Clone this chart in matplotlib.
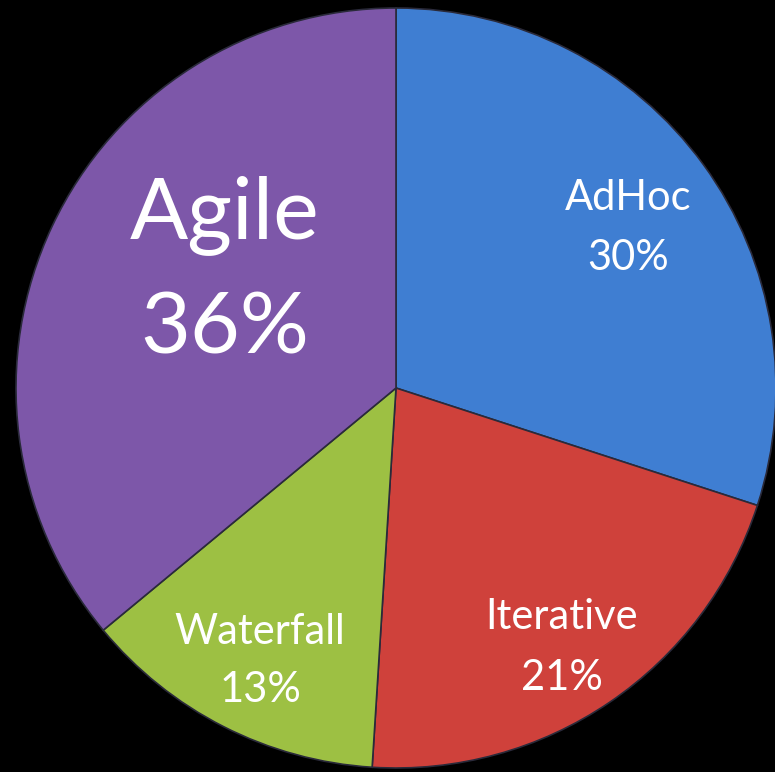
import matplotlib.pyplot as plt

labels = ["AdHoc", "Iterative", "Waterfall", "Agile"]
shares = [30, 21, 13, 36]
colors = ["#3F7ED2", "#CF413B", "#9DC043", "#7D57A9"]


def main():
    fig = plt.figure(figsize=(7.75, 7.72), dpi=100, facecolor="black")
    ax = fig.add_axes([0, 0, 1, 1])
    ax.set_facecolor("black")
    ax.set_xlim(0, 775)
    ax.set_ylim(0, 772)
    ax.set_aspect("equal")
    ax.axis("off")

    wedges, _ = ax.pie(shares, colors=colors, startangle=90, counterclock=False,
                       center=(396, 384), radius=380, frame=True,
                       wedgeprops=dict(edgecolor="#2a2a3a", linewidth=1.2))
    ax.set_xlim(0, 775)
    ax.set_ylim(0, 772)
    ax.axis("off")

    font = ["Lato", "DejaVu Sans"]
    # label positions in pixel coords (y from top)
    spots = [(628, 198, 258, 30), (562, 617, 678, 30), (260, 632, 690, 30), (225, 215, 330, 62)]
    for name, val, (x, y1, y2, size) in zip(labels, shares, spots):
        ax.text(x, 772 - y1, name, color="white", fontsize=size, family=font,
                ha="center", va="center")
        ax.text(x, 772 - y2, f"{val}%", color="white", fontsize=size, family=font,
                ha="center", va="center")

    fig.savefig("out.png", dpi=100, facecolor="black")


if __name__ == '__main__':
    main()
